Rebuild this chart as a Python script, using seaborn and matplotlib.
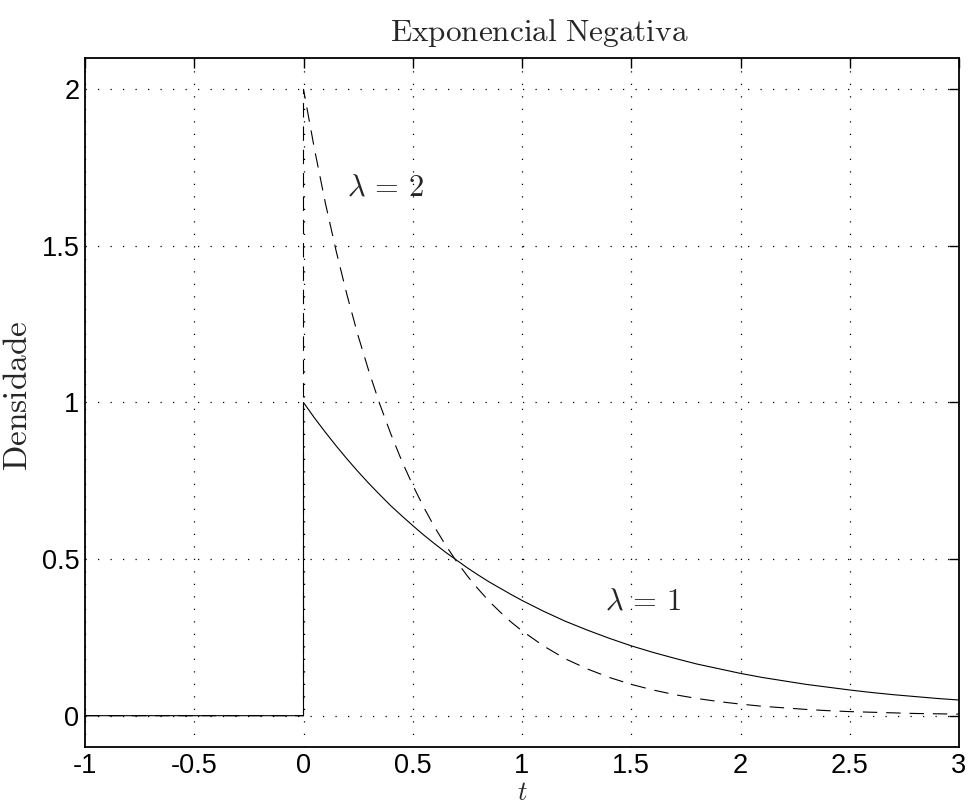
import numpy as np
import pandas as pd
import seaborn as sns
import matplotlib.pyplot as plt

# values (density of negative exponential)
t_neg = [-1.0, 0.0]
f_neg = [0.0, 0.0]

t_pos = [0.0, 0.05, 0.1, 0.15, 0.2, 0.25, 0.3, 0.35, 0.4, 0.45, 0.5, 0.55, 0.6, 0.65, 0.7,
         0.75, 0.8, 0.85, 0.9, 0.95, 1.0, 1.1, 1.2, 1.3, 1.4, 1.5, 1.6, 1.7, 1.8, 1.9, 2.0,
         2.1, 2.2, 2.3, 2.4, 2.5, 2.6, 2.7, 2.8, 2.9, 3.0]
dens_l1 = [1.000, 0.951, 0.905, 0.861, 0.819, 0.779, 0.741, 0.705, 0.670, 0.638, 0.607,
           0.577, 0.549, 0.522, 0.497, 0.472, 0.449, 0.427, 0.407, 0.387, 0.368, 0.333,
           0.301, 0.273, 0.247, 0.223, 0.202, 0.183, 0.165, 0.150, 0.135, 0.122, 0.111,
           0.100, 0.091, 0.082, 0.074, 0.067, 0.061, 0.055, 0.050]
dens_l2 = [2.000, 1.810, 1.637, 1.482, 1.341, 1.213, 1.098, 0.993, 0.899, 0.813, 0.736,
           0.666, 0.602, 0.545, 0.493, 0.446, 0.404, 0.365, 0.331, 0.299, 0.271, 0.222,
           0.181, 0.149, 0.122, 0.100, 0.082, 0.067, 0.055, 0.045, 0.037, 0.030, 0.025,
           0.020, 0.016, 0.013, 0.011, 0.009, 0.007, 0.006, 0.005]

x_ticks = [-1, -0.5, 0, 0.5, 1, 1.5, 2, 2.5, 3]
x_labels = ['-1', '-0.5', '0', '0.5', '1', '1.5', '2', '2.5', '3']
y_ticks = [0, 0.5, 1, 1.5, 2]
y_labels = ['0', '0.5', '1', '1.5', '2']

sns.set_style("white")
plt.rcParams['font.family'] = ['Liberation Sans', 'DejaVu Sans']
plt.rcParams['mathtext.fontset'] = 'cm'

df1 = pd.DataFrame({'t': t_neg + t_pos, 'd': f_neg + dens_l1})
df2 = pd.DataFrame({'t': t_neg + t_pos, 'd': f_neg + dens_l2})

fig = plt.figure(figsize=(9.68, 8.07), dpi=100)
ax = fig.add_axes([85 / 968, 1 - 747 / 807, 874 / 968, 689 / 807])

sns.lineplot(data=df1, x='t', y='d', sort=False, estimator=None, color='black',
             linewidth=0.8, ax=ax)
sns.lineplot(data=df2, x='t', y='d', sort=False, estimator=None, color='black',
             linewidth=0.8, ax=ax)
ax.lines[-1].set_linestyle((0, (13, 8)))

ax.set_xlim(-1, 3)
ax.set_ylim(-0.1, 2.1)
ax.set_xticks(x_ticks)
ax.set_xticklabels(x_labels)
ax.set_yticks(y_ticks)
ax.set_yticklabels(y_labels)
ax.tick_params(direction='in', length=7, width=1, labelsize=19.5, top=True, right=True,
               colors='black')
ax.tick_params(axis='x', pad=4)
ax.tick_params(axis='y', pad=4)
ax.grid(True, linestyle=(0, (1, 9)), color='black', linewidth=0.9)
for s in ax.spines.values():
    s.set_linewidth(1.3)
    s.set_color('black')

ax.set_title(r'$\mathrm{Exponencial\ Negativa}$', fontsize=22.5, pad=12, x=0.52)
ax.set_ylabel(r'$\mathrm{Densidade}$', fontsize=24)
ax.yaxis.set_label_coords(-0.058, 0.51)
ax.set_xlabel(r'$t$', fontsize=19)
ax.xaxis.set_label_coords(0.5, -0.049)

ax.text(0.2, 1.66, r'$\lambda\,=\,2$', fontsize=22)
ax.text(1.38, 0.34, r'$\lambda\,=\,1$', fontsize=22)

plt.savefig('out.png', dpi=100)
